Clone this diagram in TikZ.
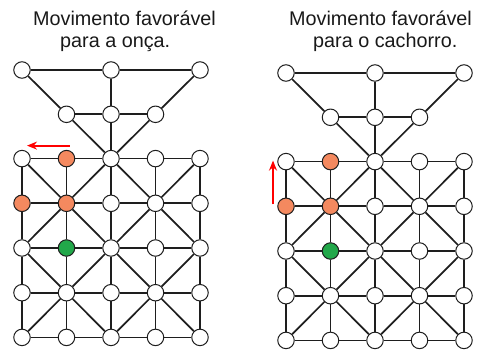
\documentclass[tikz,border=0pt]{standalone}
\usepackage{fontspec}
\setmainfont{Liberation Sans}
\usetikzlibrary{calc,arrows.meta}

\definecolor{oncaorange}{HTML}{F4895F}
\definecolor{dogreen}{HTML}{22A84A}
\definecolor{linegray}{HTML}{1E1E1E}

% pieces placed on the board (column-row)
\expandafter\def\csname spotfill-1-2\endcsname{oncaorange}
\expandafter\def\csname spotfill-0-3\endcsname{oncaorange}
\expandafter\def\csname spotfill-1-3\endcsname{oncaorange}
\expandafter\def\csname spotfill-1-4\endcsname{dogreen}

\tikzset{
  spot/.style={circle, draw=linegray, line width=1pt, minimum size=16.5pt, inner sep=0pt},
  link/.style={draw=linegray, line width=1.7pt},
  move/.style={draw=red, line width=2pt, -{Stealth[length=10pt,width=8pt]}},
  caption/.style={anchor=base west, inner sep=0pt, font=\fontsize{19.8}{22}\selectfont, text=black!90}
}

% Adugo board: columns 0..4, rows 0..1 form the triangle, rows 2..6 the square grid
\newcommand\adugoboard[1]{%
  % triangle spots
  \foreach \i in {0,2,4} {\node[spot, fill=white] (#1-\i-0) at (\i*44.5, 0) {};}
  \foreach \i in {1,2,3} {\node[spot, fill=white] (#1-\i-1) at (\i*44.5, 44.3) {};}
  % grid spots
  \foreach \i in {0,...,4} {
    \foreach \j in {2,...,6} {
      \edef\spotkey{spotfill-\i-\j}
      \ifcsname\spotkey\endcsname
        \edef\spotcolor{\csname\spotkey\endcsname}
      \else
        \def\spotcolor{white}
      \fi
      \node[spot, fill=\spotcolor] (#1-\i-\j) at (\i*44.5, 88.6+\j*44.7-89.4) {};
    }
  }
  % triangle links
  \draw[link] (#1-0-0) -- (#1-2-0) (#1-2-0) -- (#1-4-0);
  \draw[link] (#1-1-1) -- (#1-2-1) (#1-2-1) -- (#1-3-1);
  \draw[link] (#1-0-0) -- (#1-1-1) (#1-1-1) -- (#1-2-2);
  \draw[link] (#1-4-0) -- (#1-3-1) (#1-3-1) -- (#1-2-2);
  \draw[link] (#1-2-0) -- (#1-2-1) (#1-2-1) -- (#1-2-2);
  % grid rows and columns
  \foreach \j in {2,...,6} {
    \foreach \i [evaluate=\i as \k using int(\i+1)] in {0,...,3} {
      \draw[link] (#1-\i-\j) -- (#1-\k-\j);
    }
  }
  \foreach \i in {0,...,4} {
    \foreach \j [evaluate=\j as \k using int(\j+1)] in {2,...,5} {
      \draw[link] (#1-\i-\j) -- (#1-\i-\k);
    }
  }
  % diagonals leave every even spot downwards
  \foreach \i in {0,...,4} {
    \foreach \j in {2,...,5} {
      \pgfmathtruncatemacro\spotparity{mod(\i+\j,2)}
      \pgfmathtruncatemacro\nr{\j+1}
      \pgfmathtruncatemacro\lc{\i-1}
      \pgfmathtruncatemacro\rc{\i+1}
      \ifnum\spotparity=0
        \ifnum\i<4 \draw[link] (#1-\i-\j) -- (#1-\rc-\nr); \fi
        \ifnum\i>0 \draw[link] (#1-\i-\j) -- (#1-\lc-\nr); \fi
      \fi
    }
  }
}

\begin{document}
\begin{tikzpicture}[x=1pt, y=-1pt]
  \useasboundingbox (0,0) rectangle (477,349);

  % captions
  \node[caption] (capLa) at (33,25.7) {Movimento favorável};
  \node[caption] (capLb) at (60,47.7) {para a onça.};
  \node[caption] (capRa) at (289,25.7) {Movimento favorável};
  \node[caption] (capRb) at (313,47.7) {para o cachorro.};

  % left board: jaguar's move
  \begin{scope}[shift={(22,70)}]
    \adugoboard{L}
  \end{scope}
  \coordinate (Lfrom) at ($(L-1-2)+(3,-13)$);
  \coordinate (Lto) at ($(L-0-2)+(5,-13)$);
  \draw[move] (Lfrom) -- (Lto);

  % right board: dog's move
  \begin{scope}[shift={(286,73)}]
    \adugoboard{R}
  \end{scope}
  \coordinate (Rfrom) at ($(R-0-3)+(-13,-2)$);
  \coordinate (Rto) at ($(R-0-2)+(-13,-1)$);
  \draw[move] (Rfrom) -- (Rto);
\end{tikzpicture}
\end{document}
